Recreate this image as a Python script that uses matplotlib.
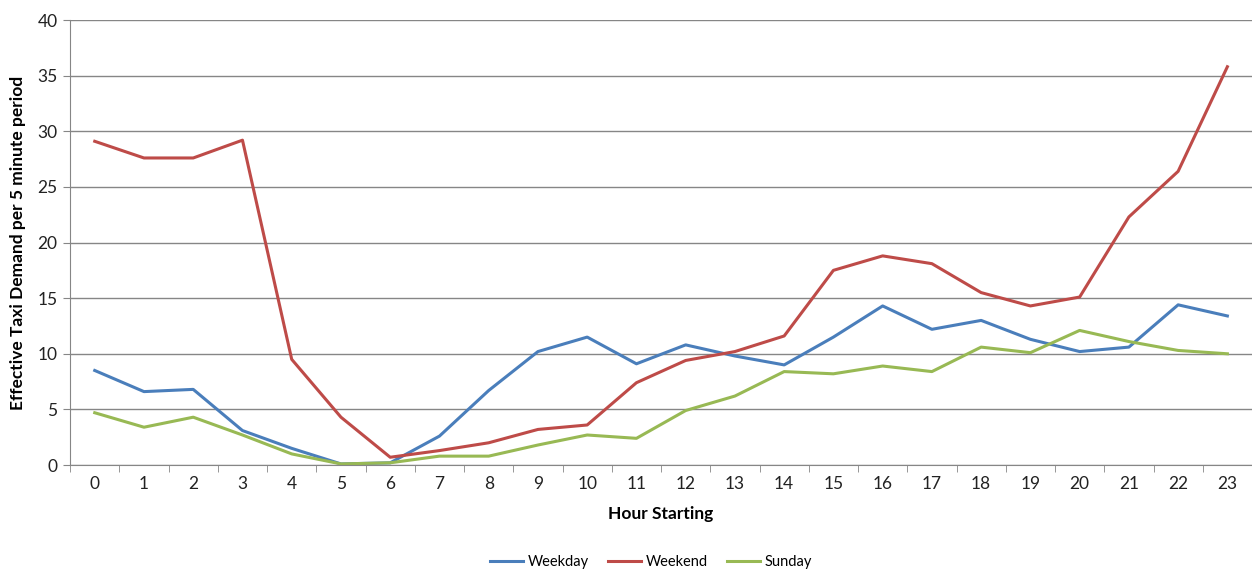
import numpy as np
from matplotlib import pyplot as plt

hours = list(range(24))
weekday = [8.5, 6.6, 6.8, 3.1, 1.5, 0.1, 0.2, 2.6, 6.7, 10.2, 11.5, 9.1,
           10.8, 9.8, 9.0, 11.5, 14.3, 12.2, 13.0, 11.3, 10.2, 10.6, 14.4, 13.4]
weekend = [29.1, 27.6, 27.6, 29.2, 9.5, 4.3, 0.7, 1.3, 2.0, 3.2, 3.6, 7.4,
           9.4, 10.2, 11.6, 17.5, 18.8, 18.1, 15.5, 14.3, 15.1, 22.3, 26.4, 35.8]
sunday = [4.7, 3.4, 4.3, 2.7, 1.0, 0.1, 0.2, 0.8, 0.8, 1.8, 2.7, 2.4,
          4.9, 6.2, 8.4, 8.2, 8.9, 8.4, 10.6, 10.1, 12.1, 11.1, 10.3, 10.0]

plt.rcParams['font.family'] = ['Lato', 'DejaVu Sans']

fig = plt.figure(figsize=(12.52, 5.72), dpi=100)
ax = fig.add_axes([0.056, 0.187, 0.944, 0.778])

ax.plot(hours, weekday, color='#4A7EBB', lw=2.2, label='Weekday')
ax.plot(hours, weekend, color='#BE4B48', lw=2.2, label='Weekend')
ax.plot(hours, sunday, color='#98B954', lw=2.2, label='Sunday')

ax.set_xlim(-0.5, 23.5)
ax.set_ylim(0, 40)
ax.set_yticks(np.arange(0, 41, 5))
ax.set_xticks(hours)
# tick marks sit between the hour labels
ax.set_xticks(np.arange(-0.5, 24, 1), minor=True)
ax.tick_params(axis='x', which='major', length=0, pad=8, labelsize=12.5, colors='#222222')
ax.tick_params(axis='x', which='minor', length=5, color='#868686')
ax.tick_params(axis='y', length=5, color='#868686', labelsize=12.5, labelcolor='#222222', pad=4)

ax.grid(axis='y', color='#868686', lw=1)
ax.set_axisbelow(True)
for side in ['top', 'right']:
    ax.spines[side].set_visible(False)
ax.spines['left'].set_color('#868686')
ax.spines['bottom'].set_color('#868686')

ax.set_xlabel('Hour Starting', fontsize=12.5, fontweight='bold', labelpad=10)
ax.set_ylabel('Effective Taxi Demand per 5 minute period', fontsize=12.5, fontweight='bold', labelpad=8)

fig.legend(loc='center', bbox_to_anchor=(0.52, 0.018), ncol=3, frameon=False,
           fontsize=10.5, handlelength=2.3, handletextpad=0.3, columnspacing=1.3)

plt.savefig('out.png')
